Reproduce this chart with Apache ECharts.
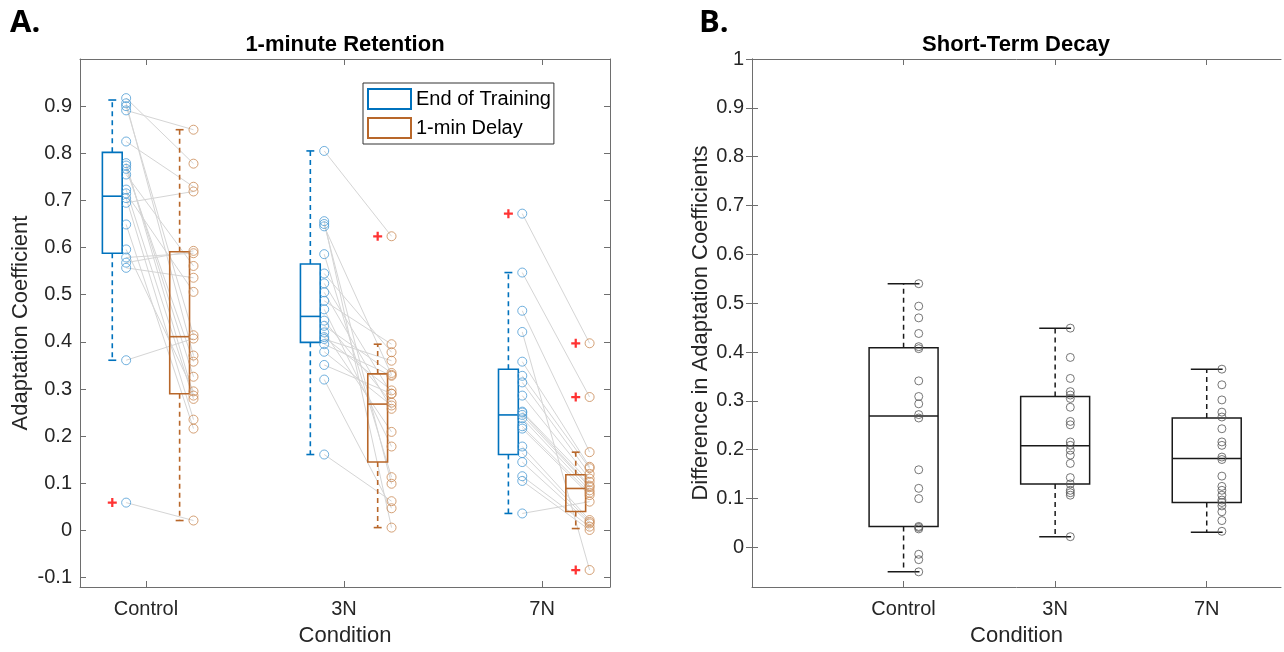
<!DOCTYPE html>
<html><head><meta charset="utf-8">
<script src="https://cdn.jsdelivr.net/npm/echarts@6/dist/echarts.min.js"></script>
<style>html,body{margin:0;padding:0;background:#fff}#c{width:1284px;height:652px}</style>
</head><body><div id="c"></div>
<script>
// ---------------- DATA ----------------
const groups = ['Control', '3N', '7N'];
const leftYTicks = [-0.1, 0, 0.1, 0.2, 0.3, 0.4, 0.5, 0.6, 0.7, 0.8, 0.9];
const rightYTicks = [0, 0.1, 0.2, 0.3, 0.4, 0.5, 0.6, 0.7, 0.8, 0.9, 1];

// Panel A: per-subject values (index i = same subject in both arrays)
const endTrainingControl = [0.917,0.906,0.900,0.891,0.825,0.779,0.774,0.767,0.755,0.723,0.715,0.705,0.695,0.649,0.596,0.579,0.568,0.557,0.361,0.059];
const delayControl       = [0.778,0.371,0.414,0.850,0.729,0.286,0.326,0.358,0.561,0.279,0.506,0.235,0.719,0.216,0.295,0.588,0.593,0.536,0.407,0.021];
const endTraining3N = [0.805,0.656,0.650,0.645,0.586,0.545,0.524,0.505,0.487,0.469,0.445,0.434,0.420,0.410,0.406,0.395,0.379,0.351,0.320,0.161];
const delay3N       = [0.624,0.006,0.099,0.330,0.113,0.378,0.290,0.258,0.395,0.178,0.271,0.334,0.209,0.297,0.360,0.328,0.265,0.290,0.047,0.062];
const endTraining7N = [0.672,0.547,0.466,0.421,0.358,0.328,0.314,0.286,0.252,0.250,0.245,0.238,0.221,0.216,0.178,0.164,0.145,0.115,0.105,0.036];
const delay7N       = [0.397,0.283,0.166,-0.084,0.135,0.132,0.120,0.110,0.103,0.095,0.092,0.085,0.080,0.075,0.022,0.018,0.015,0.008,0.001,0.061];

// Box statistics [lower whisker, Q1, median, Q3, upper whisker]
const endTrainingBox = [[0.361,0.588,0.709,0.802,0.913],[0.161,0.399,0.454,0.565,0.805],[0.036,0.161,0.245,0.342,0.547]];
const delayBox       = [[0.021,0.290,0.411,0.591,0.850],[0.006,0.145,0.268,0.332,0.395],[0.004,0.040,0.089,0.118,0.166]];
const endTrainingOutliers = [[0.059],[],[0.672]];
const delayOutliers       = [[],[0.624],[0.397,0.283,-0.084]];

// Panel B: differences
const decayControl = [0.540,0.494,0.470,0.438,0.411,0.407,0.341,0.309,0.294,0.272,0.265,0.159,0.121,0.100,0.043,0.041,0.038,-0.014,-0.025,-0.050];
const decay3N      = [0.449,0.389,0.346,0.319,0.312,0.305,0.287,0.258,0.251,0.216,0.209,0.199,0.189,0.172,0.143,0.130,0.117,0.112,0.107,0.022];
const decay7N      = [0.365,0.333,0.302,0.277,0.267,0.243,0.216,0.209,0.185,0.180,0.146,0.125,0.117,0.107,0.097,0.092,0.085,0.073,0.055,0.033];
const decayBox = [[-0.050,0.043,0.269,0.409,0.540],[0.022,0.130,0.208,0.309,0.449],[0.031,0.092,0.182,0.265,0.365]];

// ---------------- STYLE ----------------
const BLUE = '#0072BD', BLUE_PT = '#4D9CD5';
const ORANGE = '#B8672A', ORANGE_PT = '#C98A55';
const AX = '#6e6e6e', TXT = '#262626';
const FONT = 'Liberation Sans, Arial, sans-serif';

const endTraining = [endTrainingControl, endTraining3N, endTraining7N];
const delay = [delayControl, delay3N, delay7N];
const decay = [decayControl, decay3N, decay7N];

const OFF = 0.17, PT_OFF = 0.07;

function boxRender(color, bw, capHalf, lw) {
  return function (params, api) {
    const x = api.value(0);
    const v = [1,2,3,4,5].map(i => api.value(i));
    const p = v.map(val => api.coord([x, val]));
    const w = api.size([bw, 0])[0];
    const c = api.size([capHalf, 0])[0];
    const cx = p[0][0];
    const st = {stroke: color, lineWidth: lw, fill: null};
    const dash = {stroke: color, lineWidth: lw, lineDash: [5, 4], fill: null};
    return {type: 'group', children: [
      {type: 'line', shape: {x1: cx, y1: p[3][1], x2: cx, y2: p[4][1]}, style: dash},
      {type: 'line', shape: {x1: cx, y1: p[1][1], x2: cx, y2: p[0][1]}, style: dash},
      {type: 'line', shape: {x1: cx - c, y1: p[4][1], x2: cx + c, y2: p[4][1]}, style: st},
      {type: 'line', shape: {x1: cx - c, y1: p[0][1], x2: cx + c, y2: p[0][1]}, style: st},
      {type: 'rect', shape: {x: cx - w/2, y: p[3][1], width: w, height: p[1][1] - p[3][1]}, style: st},
      {type: 'line', shape: {x1: cx - w/2, y1: p[2][1], x2: cx + w/2, y2: p[2][1]}, style: st}
    ]};
  };
}

function lineRender(params, api) {
  const a = api.coord([api.value(0), api.value(1)]);
  const b = api.coord([api.value(2), api.value(3)]);
  return {type: 'line', shape: {x1: a[0], y1: a[1], x2: b[0], y2: b[1]}, style: {stroke: '#d5d5d5', lineWidth: 1}};
}

const plusPath = 'path://M3,0H5V3H8V5H5V8H3V5H0V3H3Z';

// build data
const linkData = [], blueBoxData = [], orangeBoxData = [], bluePts = [], orangePts = [], outPts = [];
groups.forEach((g, gi) => {
  const xc = gi + 1;
  const xb = xc - OFF, xo = xc + OFF;
  endTraining[gi].forEach((v, i) => {
    linkData.push([xb + PT_OFF, v, xo + PT_OFF, delay[gi][i]]);
    bluePts.push([xb + PT_OFF, v]);
    orangePts.push([xo + PT_OFF, delay[gi][i]]);
  });
  blueBoxData.push([xb].concat(endTrainingBox[gi]));
  orangeBoxData.push([xo].concat(delayBox[gi]));
  endTrainingOutliers[gi].forEach(v => outPts.push([xb, v]));
  delayOutliers[gi].forEach(v => outPts.push([xo, v]));
});
const decayBoxData = [], decayPts = [];
groups.forEach((g, gi) => {
  decayBoxData.push([gi + 1].concat(decayBox[gi]));
  decay[gi].forEach(v => decayPts.push([gi + 1 + 0.1, v]));
});

const fmt = v => String(+(+v).toFixed(2));

function yAx(gridIndex, min, max, ticks, pos, withLabels, name, nameGap) {
  return {
    type: 'value', gridIndex, min, max, position: pos,
    name: withLabels ? name : '', nameLocation: 'middle', nameGap,
    nameTextStyle: {fontSize: 22, color: TXT, fontFamily: FONT},
    axisLine: {show: true, lineStyle: {color: AX, width: 1}},
    axisTick: {show: true, inside: true, length: 6, customValues: ticks, lineStyle: {color: AX}},
    axisLabel: {show: withLabels, customValues: ticks, formatter: fmt, margin: 8, fontSize: 20, color: TXT, fontFamily: FONT},
    splitLine: {show: false}
  };
}
function xAx(gridIndex, min, max, pos, withLabels, nameGap) {
  return {
    type: 'value', gridIndex, min, max, position: pos,
    name: withLabels ? 'Condition' : '', nameLocation: 'middle', nameGap,
    nameTextStyle: {fontSize: 22, color: TXT, fontFamily: FONT},
    axisLine: {show: true, onZero: false, lineStyle: {color: AX, width: 1}},
    axisTick: {show: true, inside: true, length: 6, customValues: [1, 2, 3], lineStyle: {color: AX}},
    axisLabel: {show: withLabels, customValues: [1, 2, 3], formatter: v => groups[Math.round(v) - 1], margin: 12, fontSize: 20, color: TXT, fontFamily: FONT},
    splitLine: {show: false}
  };
}

const LXMIN = 0.667, LXMAX = 3.343, RXMIN = 0, RXMAX = 3.49;
const LYMIN = -0.12, LYMAX = 1.0, RYMIN = -0.081, RYMAX = 1.0;

const option = {
  animation: false,
  backgroundColor: '#fff',
  grid: [
    {left: 80, top: 59, width: 530, height: 530},
    {left: 752, top: 59, width: 529, height: 530}
  ],
  xAxis: [
    xAx(0, LXMIN, LXMAX, 'bottom', true, 38),
    xAx(0, LXMIN, LXMAX, 'top', false, 0),
    xAx(1, RXMIN, RXMAX, 'bottom', true, 38),
    xAx(1, RXMIN, RXMAX, 'top', false, 0)
  ],
  yAxis: [
    yAx(0, LYMIN, LYMAX, leftYTicks, 'left', true, 'Adaptation Coefficient', 48),
    yAx(0, LYMIN, LYMAX, leftYTicks, 'right', false, '', 0),
    yAx(1, RYMIN, RYMAX, rightYTicks, 'left', true, 'Difference in Adaptation Coefficients', 37),
    yAx(1, RYMIN, RYMAX, rightYTicks, 'right', false, '', 0)
  ],
  legend: {
    left: 363, top: 83, orient: 'vertical',
    itemWidth: 43, itemHeight: 20, itemGap: 7,
    padding: [5, 3, 5, 4],
    borderColor: '#333', borderWidth: 1, backgroundColor: '#fff',
    textStyle: {fontSize: 20, color: '#000', fontFamily: FONT},
    selectedMode: false,
    data: [
      {name: 'End of Training', icon: 'rect', itemStyle: {color: 'rgba(0,0,0,0)', borderColor: BLUE, borderWidth: 2}},
      {name: '1-min Delay', icon: 'rect', itemStyle: {color: 'rgba(0,0,0,0)', borderColor: ORANGE, borderWidth: 2}}
    ]
  },
  graphic: [
    {type: 'text', x: 10, y: 8, style: {text: 'A.', fontSize: 31, fontWeight: 'bold', fontFamily: 'Open Sans, DejaVu Sans, sans-serif', fill: '#000'}},
    {type: 'text', x: 699, y: 8, style: {text: 'B.', fontSize: 31, fontWeight: 'bold', fontFamily: 'Open Sans, DejaVu Sans, sans-serif', fill: '#000'}},
    {type: 'text', x: 345, y: 45, style: {text: '1-minute Retention', align: 'center', verticalAlign: 'middle', fontSize: 22, fontWeight: 'bold', fontFamily: FONT, fill: '#000'}},
    {type: 'text', x: 1016, y: 45, style: {text: 'Short-Term Decay', align: 'center', verticalAlign: 'middle', fontSize: 22, fontWeight: 'bold', fontFamily: FONT, fill: '#000'}}
  ],
  series: [
    {type: 'custom', name: 'links', xAxisIndex: 0, yAxisIndex: 0, z: 1, renderItem: lineRender, encode: {x: [0, 2], y: [1, 3]}, data: linkData, silent: true},
    {type: 'custom', name: 'End of Training', xAxisIndex: 0, yAxisIndex: 0, z: 3, itemStyle: {color: BLUE}, renderItem: boxRender(BLUE, 0.1, 0.02, 1.6), encode: {x: 0, y: [1,2,3,4,5]}, data: blueBoxData},
    {type: 'custom', name: '1-min Delay', xAxisIndex: 0, yAxisIndex: 0, z: 3, itemStyle: {color: ORANGE}, renderItem: boxRender(ORANGE, 0.1, 0.02, 1.6), encode: {x: 0, y: [1,2,3,4,5]}, data: orangeBoxData},
    {type: 'scatter', name: 'ptsBlue', xAxisIndex: 0, yAxisIndex: 0, z: 4, symbol: 'circle', symbolSize: 9, itemStyle: {color: 'rgba(0,0,0,0)', borderColor: BLUE_PT, borderWidth: 1}, data: bluePts, silent: true},
    {type: 'scatter', name: 'ptsOrange', xAxisIndex: 0, yAxisIndex: 0, z: 4, symbol: 'circle', symbolSize: 9, itemStyle: {color: 'rgba(0,0,0,0)', borderColor: ORANGE_PT, borderWidth: 1}, data: orangePts, silent: true},
    {type: 'scatter', name: 'outliers', xAxisIndex: 0, yAxisIndex: 0, z: 5, symbol: plusPath, symbolSize: 9, itemStyle: {color: '#FF0000'}, data: outPts, silent: true},
    {type: 'custom', name: 'decayBox', xAxisIndex: 2, yAxisIndex: 2, z: 3, renderItem: boxRender('#1a1a1a', 0.455, 0.105, 1.5), encode: {x: 0, y: [1,2,3,4,5]}, data: decayBoxData},
    {type: 'scatter', name: 'decayPts', xAxisIndex: 2, yAxisIndex: 2, z: 4, symbol: 'circle', symbolSize: 8, itemStyle: {color: 'rgba(0,0,0,0)', borderColor: '#555', borderWidth: 1}, data: decayPts, silent: true}
  ]
};
const chart = echarts.init(document.getElementById('c'), null, {renderer: 'canvas'});
chart.setOption(option);
</script></body></html>
